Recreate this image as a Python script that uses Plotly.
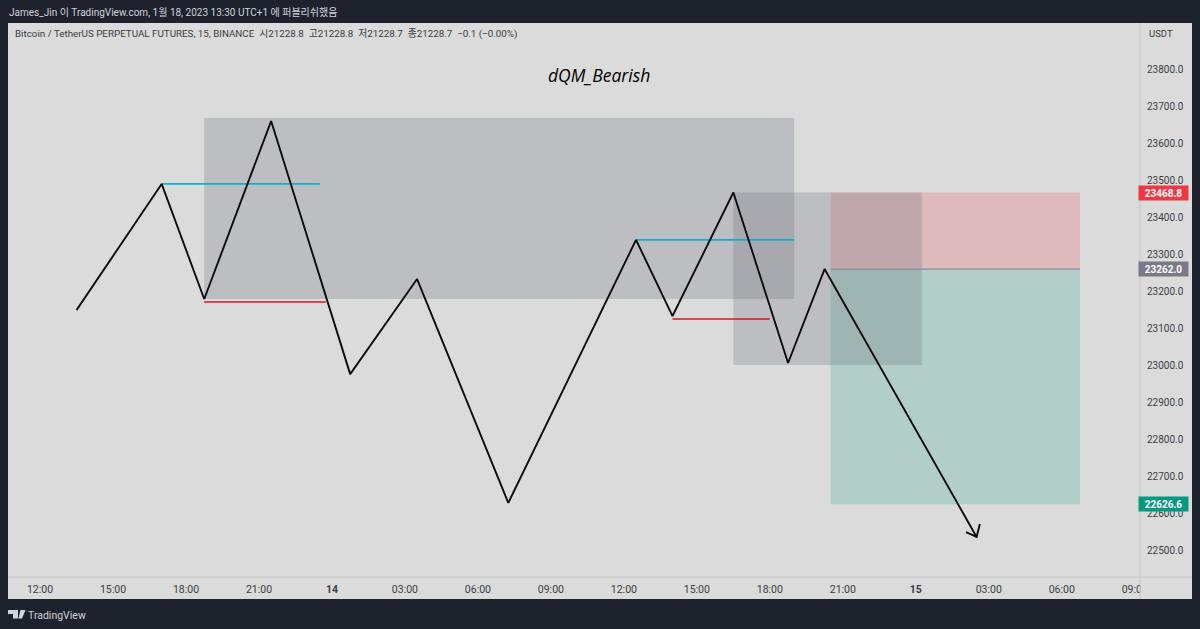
import plotly.graph_objects as go

# zigzag path
path_time = ['2023-01-13 13:30', '2023-01-13 17:00', '2023-01-13 18:45', '2023-01-13 21:30',
             '2023-01-14 00:45', '2023-01-14 03:30', '2023-01-14 07:15', '2023-01-14 12:30',
             '2023-01-14 14:00', '2023-01-14 16:30', '2023-01-14 18:45', '2023-01-14 20:15',
             '2023-01-15 02:30']
path_price = [23151, 23492, 23181, 23662, 22978, 23235, 22630, 23341, 23135, 23468.8, 23008, 23262, 22538]

head_time = ['2023-01-15 02:38', '2023-01-15 02:30', '2023-01-15 02:04']
head_price = [22573, 22538, 22551]

# zones
box1_time = ['2023-01-13 18:45', '2023-01-14 19:00']
box1_price = [23181, 23670]
box2_time = ['2023-01-14 16:30', '2023-01-15 00:15']
box2_price = [23003, 23468.8]
zone_time = ['2023-01-14 20:30', '2023-01-15 06:45']
entry = 23262.0
stop = 23468.8
target = 22626.6

# short levels
cyan1_time = ['2023-01-13 17:00', '2023-01-13 23:30']
cyan1_price = [23492, 23492]
red1_time = ['2023-01-13 18:45', '2023-01-13 23:45']
red1_price = [23173, 23173]
cyan2_time = ['2023-01-14 12:30', '2023-01-14 19:00']
cyan2_price = [23341, 23341]
red2_time = ['2023-01-14 14:00', '2023-01-14 18:00']
red2_price = [23127, 23127]

# axes
x_ticks = ['2023-01-13 12:00', '2023-01-13 15:00', '2023-01-13 18:00', '2023-01-13 21:00',
           '2023-01-14 00:00', '2023-01-14 03:00', '2023-01-14 06:00', '2023-01-14 09:00',
           '2023-01-14 12:00', '2023-01-14 15:00', '2023-01-14 18:00', '2023-01-14 21:00',
           '2023-01-15 00:00', '2023-01-15 03:00', '2023-01-15 06:00', '2023-01-15 09:00']
x_labels = ['12:00', '15:00', '18:00', '21:00', '<b>14</b>', '03:00', '06:00', '09:00',
            '12:00', '15:00', '18:00', '21:00', '<b>15</b>', '03:00', '06:00', '09:00']
y_ticks = [23800, 23700, 23600, 23500, 23400, 23300, 23200, 23100, 23000,
           22900, 22800, 22700, 22600, 22500]
y_labels = ['%.1f' % v for v in y_ticks]

W, H = 1200, 629
L, R, T, B = 8, 1140, 23, 577
DARK = '#1e222d'
PANEL = '#dbdbdb'
FONT = 'Roboto, Noto Sans CJK KR, sans-serif'


def px(x):
    return (x - L) / (R - L)


def py(y):
    return (B - y) / (B - T)


def rect(fig, xs, ys, color):
    fig.add_trace(go.Scatter(
        x=[xs[0], xs[1], xs[1], xs[0], xs[0]], y=[ys[0], ys[0], ys[1], ys[1], ys[0]],
        mode='lines', line=dict(width=0), fill='toself', fillcolor=color,
        hoverinfo='skip', showlegend=False))


def line(fig, xs, ys, color, width):
    fig.add_trace(go.Scatter(x=xs, y=ys, mode='lines', line=dict(color=color, width=width),
                             hoverinfo='skip', showlegend=False))


fig = go.Figure()
rect(fig, zone_time, [entry, stop], 'rgba(242,54,69,0.2)')
rect(fig, zone_time, [target, entry], 'rgba(8,153,129,0.2)')
rect(fig, box1_time, box1_price, 'rgba(120,123,134,0.3)')
rect(fig, box2_time, box2_price, 'rgba(120,123,134,0.3)')
line(fig, zone_time, [entry, entry], '#8a8d96', 1.2)
line(fig, cyan1_time, cyan1_price, '#10b0cc', 1.8)
line(fig, cyan2_time, cyan2_price, '#10b0cc', 1.8)
line(fig, red1_time, red1_price, '#e0101f', 1.7)
line(fig, red2_time, red2_price, '#e0101f', 1.7)
line(fig, path_time, path_price, '#0c0c0e', 1.9)
line(fig, head_time, head_price, '#0c0c0e', 1.9)

shapes = [
    # light panel around the plot
    dict(type='rect', xref='paper', yref='paper', layer='below', x0=px(R), x1=px(1192), y0=py(599), y1=py(T),
         fillcolor=PANEL, line_width=0),
    dict(type='rect', xref='paper', yref='paper', layer='below', x0=px(L), x1=px(R), y0=py(599), y1=py(B),
         fillcolor=PANEL, line_width=0),
    # hides the end of the last time label
    dict(type='rect', xref='paper', yref='paper', layer='above', x0=px(R + 0.5), x1=px(1192), y0=py(599), y1=py(B + 0.5),
         fillcolor=PANEL, line_width=0),
    dict(type='line', xref='paper', yref='paper', layer='above', x0=px(R), x1=px(R), y0=py(599), y1=py(T),
         line=dict(color='#c4c4c6', width=1)),
    dict(type='line', xref='paper', yref='paper', layer='above', x0=px(L), x1=px(1192), y0=py(B), y1=py(B),
         line=dict(color='#c4c4c6', width=1)),
    # logo
    dict(type='path', xref='paper', yref='paper', fillcolor='#d1d4dc', line_width=0,
         path='M %f %f L %f %f L %f %f L %f %f L %f %f L %f %f Z' % (
             px(8), py(610), px(18), py(610), px(18), py(618.5), px(13), py(618.5), px(13), py(614), px(8), py(614))),
    dict(type='path', xref='paper', yref='paper', fillcolor='#d1d4dc', line_width=0,
         path='M %f %f L %f %f L %f %f L %f %f Z' % (
             px(20.5), py(610), px(25.5), py(610), px(22), py(618.5), px(18.5), py(618.5))),
]


def label(text, x, y, size, color, **kw):
    return dict(text=text, xref='paper', yref='paper', x=px(x), y=py(y), showarrow=False,
                xanchor=kw.pop('xanchor', 'left'), yanchor='middle',
                font=dict(family=kw.pop('family', FONT), size=size, color=color), **kw)


def tag(text, price, color):
    return dict(text='<b>%s</b>' % text, xref='paper', yref='y', x=px(1163.5), y=price, showarrow=False,
                xanchor='center', yanchor='middle', width=49, height=14, bgcolor=color, borderpad=0,
                font=dict(family=FONT, size=10, color='white'))


annotations = [
    label('James_Jin 이 TradingView.com, 1월 18, 2023 13:30 UTC+1 에 퍼블리쉬했음', 7, 12, 10, '#d1d4dc'),
    label('Bitcoin / TetherUS PERPETUAL FUTURES, 15, BINANCE  시21228.8  고21228.8  저21228.7  종21228.7  −0.1 (−0.00%)',
          13, 34, 9.8, '#3a3d45'),
    label('USDT', 1147, 33, 9.5, '#3a3d45'),
    label('<i>dQM_Bearish</i>', 599, 75, 17.5, '#000000', xanchor='center', family='Open Sans, sans-serif'),
    label('TradingView', 26, 615, 10.5, '#d1d4dc'),
    tag('23468.8', stop, '#f23645'),
    tag('23262.0', entry, '#787b86'),
    tag('22626.6', target, '#089981'),
]

fig.update_layout(
    width=W, height=H, margin=dict(l=L, r=W - R, t=T, b=H - B),
    paper_bgcolor=DARK, plot_bgcolor=PANEL, showlegend=False,
    shapes=shapes, annotations=annotations,
    xaxis=dict(type='date', range=['2023-01-13 10:41', '2023-01-15 09:13'], tickmode='array',
               tickvals=x_ticks, ticktext=x_labels, tickangle=0, showgrid=False, zeroline=False, ticklen=0,
               ticklabelstandoff=4, tickfont=dict(family=FONT, size=10.5, color='#3a3d45')),
    yaxis=dict(side='right', range=[22429.7, 23927], tickmode='array', tickvals=y_ticks, ticktext=y_labels,
               showgrid=False, zeroline=False, ticklen=0, ticklabelstandoff=6,
               tickfont=dict(family=FONT, size=10, color='#3a3d45')),
)

fig.write_html("out.html", config=dict(displayModeBar=False), post_script="document.body.style.margin='0';")
